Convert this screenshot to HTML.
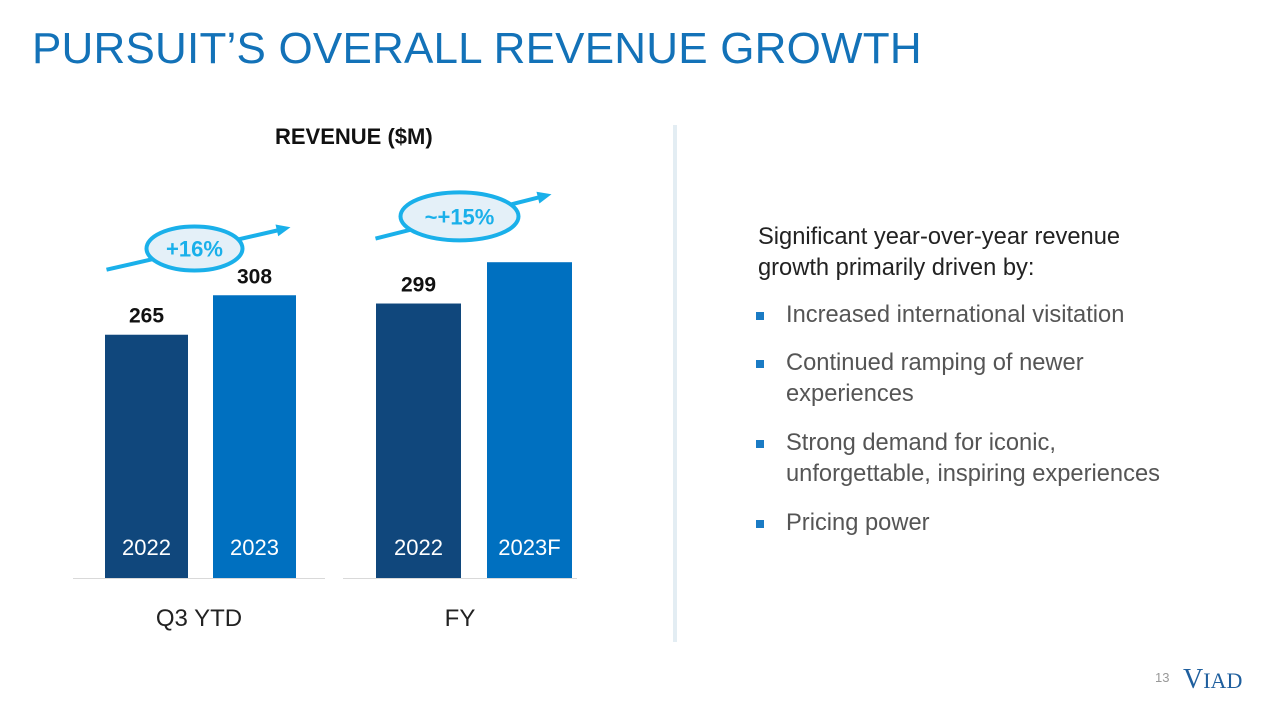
<!DOCTYPE html>
<html><head><meta charset="utf-8"><style>
body{margin:0;width:1280px;height:720px;background:#fff;overflow:hidden;font-family:"Liberation Sans",sans-serif;position:relative}
.abs{position:absolute}
h1{position:absolute;left:32px;top:24px;margin:0;font-weight:normal;font-size:44px;color:#1372b8;letter-spacing:0.2px}
.bul{position:absolute;left:758px;font-size:23.7px;color:#555;line-height:31px;width:440px}
.bul::before{content:"";position:absolute;left:-2px;top:12px;width:8px;height:8px;background:#1a7bc4}
.bul span{display:block;padding-left:28px}
</style></head><body>
<h1>PURSUIT’S OVERALL REVENUE GROWTH</h1>
<div class="abs" style="left:275px;top:124px;font-size:22px;font-weight:bold;color:#111">REVENUE ($M)</div>
<div class="abs" style="left:673px;top:125px;width:4px;height:517px;background:#e3edf3"></div>
<svg id="chart" class="abs" style="left:0;top:0" width="660" height="720"></svg>
<div class="abs" style="left:758px;top:222px;font-size:23.7px;color:#222;line-height:31px">Significant year-over-year revenue<br>growth primarily driven by:</div>
<div class="bul" style="top:300px"><span>Increased international visitation</span></div>
<div class="bul" style="top:348px"><span>Continued ramping of newer experiences</span></div>
<div class="bul" style="top:428px"><span>Strong demand for iconic, unforgettable, inspiring experiences</span></div>
<div class="bul" style="top:508px"><span>Pricing power</span></div>
<div class="abs" style="left:1155px;top:670px;font-size:13px;color:#999">13</div>
<div class="abs" style="left:1183px;top:664px;font-family:'Liberation Serif',serif;font-size:22px;color:#1f5f9e"><span style="font-size:28px">V</span>IAD</div>
<script>
const categories=["Q3 YTD","FY"];
const years=[["2022","2023"],["2022","2023F"]];
const values=[[265,308],[299,344]];
const showLabel=[[true,true],[true,false]];
const growth=["+16%","~+15%"];
const svg=document.getElementById('chart');
const NS="http://www.w3.org/2000/svg";
const base=578,scale=0.918;
const y=v=>base-v*scale;
const groupX=[105,376],barW=[83,85],barGap=[108,111];
const arrowL=[40,43],arrowR=[36,22];
const colors=["#10477c","#0070c0"];
function mk(t,a){const e=document.createElementNS(NS,t);for(const k in a)e.setAttribute(k,a[k]);svg.appendChild(e);return e;}
const axes=[[73,325],[343,577]];
categories.forEach((c,g)=>{
  const ax=mk('line',{x1:axes[g][0],x2:axes[g][1],y1:base+0.5,y2:base+0.5,stroke:'#d9d9d9','stroke-width':1});
  
  const cl=mk('text',{x:(axes[g][0]+axes[g][1])/2,y:626,'text-anchor':'middle','font-size':24,fill:'#222','font-family':'Liberation Sans, sans-serif'});
  cl.textContent=c;
  const tops=[];
  values[g].forEach((v,i)=>{
    const x=groupX[g]+i*barGap[g];
    const r=mk('rect',{x:x,y:y(v),width:barW[g],height:base-y(v),fill:colors[i]});
    
    tops.push([x+barW[g]/2,y(v)]);
    const yl=mk('text',{x:x+barW[g]/2,y:555,'text-anchor':'middle','font-size':22,fill:'#fff','font-family':'Liberation Sans, sans-serif'});
    yl.textContent=years[g][i];
    if(showLabel[g][i]){
      const vl=mk('text',{x:x+barW[g]/2,y:y(v)-12,'text-anchor':'middle','font-size':21,'font-weight':'bold',fill:'#111','font-family':'Liberation Sans, sans-serif'});
      vl.textContent=v;
    }
  });
  const x1=tops[0][0]-arrowL[g],y1=tops[0][1]-65,x2=tops[1][0]+arrowR[g],y2=tops[1][1]-68;
  const ar=mk('line',{x1:x1,y1:y1,x2:x2-8,y2:y2+2,stroke:'#1ab0ea','stroke-width':4});
  
  const ang=Math.atan2(y2-y1,x2-x1);
  const hx=x2,hy=y2,p=[[hx,hy],[hx-14*Math.cos(ang)+6*Math.sin(ang),hy-14*Math.sin(ang)-6*Math.cos(ang)],[hx-14*Math.cos(ang)-6*Math.sin(ang),hy-14*Math.sin(ang)+6*Math.cos(ang)]];
  const head=mk('polygon',{points:p.map(q=>q.join(',')).join(' '),fill:'#1ab0ea'});
  
  const cx=(x1+x2)/2-4,cy=(y1+y2)/2;
  const el=mk('ellipse',{cx:cx,cy:cy,rx:g?59:48,ry:g?24:22,fill:'#e4f0f8',stroke:'#1ab0ea','stroke-width':4});
  
  const gt=mk('text',{x:cx,y:cy+8,'text-anchor':'middle','font-size':22,'font-weight':'bold',fill:'#1ab0ea','font-family':'Liberation Sans, sans-serif'});
  gt.textContent=growth[g];
});
</script>
</body></html>
